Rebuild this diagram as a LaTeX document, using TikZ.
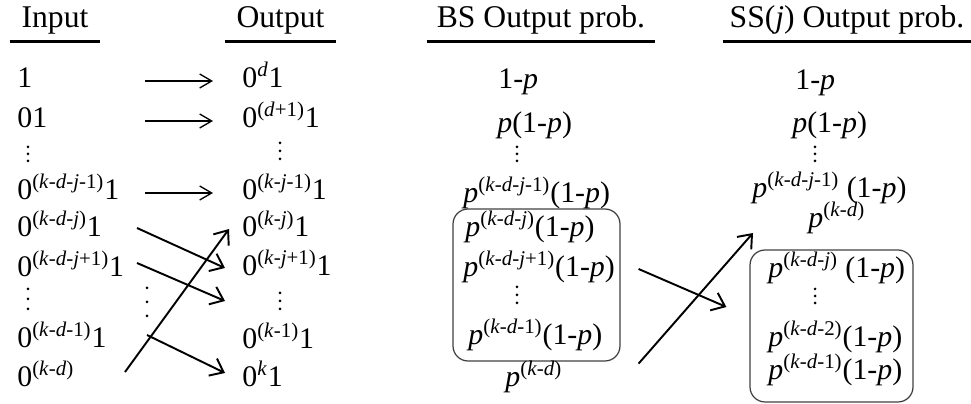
\documentclass[tikz,border=0pt]{standalone}
\usepackage{fontspec}
\setmainfont{Liberation Serif}
\usetikzlibrary{arrows.meta}

\newcommand{\iv}[1]{\textit{#1}}
\newcommand{\sups}[1]{\textsuperscript{#1}}
\newcommand{\omp}{(1-\iv{p})}

\begin{document}
\begin{tikzpicture}[x=0.02cm, y=-0.02cm,
txt/.style={anchor=base west, inner sep=0pt, font=\fontsize{17}{20}\selectfont},
head/.style={anchor=base, inner xsep=0pt, inner ysep=0pt, font=\fontsize{18}{21}\selectfont},
ul/.style={line width=1.6pt},
grp/.style={draw=black!75, line width=0.7pt, rounded corners=0.3cm},
tarr/.style={-{Straight Barb[length=2.4mm, width=2.8mm]}, line width=0.75pt},
arr/.style={-{Straight Barb[length=2.4mm, width=3.8mm]}, line width=1.1pt}
]
\useasboundingbox (0,0) rectangle (971,404);

% headers
\node[head, minimum width=1.8cm] (hin) at (55,28) {Input};
\node[head, minimum width=2.22cm] (hout) at (280.5,28) {Output};
\node[head, minimum width=4.56cm] (hbs) at (541,28) {BS Output prob.};
\node[head, minimum width=4.96cm] (hss) at (847,28) {SS(\iv{j}) Output prob.};
\foreach \h in {hin,hout,hbs,hss}
  \draw[ul] ([yshift=-0.27cm]\h.base west) -- ([yshift=-0.27cm]\h.base east);

% vertical dots
\foreach \n/\x/\y/\s in {in3/28/154/7, in7/28/299/10, out3/280/151/8, out7/280/301/8,
    mid/147/302/14, bs3/517/154/7, bs7/517/295/8, ss3/815/154/7, ss7/815/296/7} {
  \coordinate (\n) at (\x,\y);
  \foreach \k in {-1,0,1}
    \fill (\n) ++(0,\k*\s) circle (0.03cm);
}

% input
\node[txt] (in1) at (17,88) {1};
\node[txt] (in2) at (17,128) {01};
\node[txt] (in4) at (17,200) {0\sups{(\iv{k}-\iv{d}-\iv{j}-1)}1};
\node[txt] (in5) at (17,237) {0\sups{(\iv{k}-\iv{d}-\iv{j})}1};
\node[txt] (in6) at (17,277) {0\sups{(\iv{k}-\iv{d}-\iv{j}+1)}1};
\node[txt] (in8) at (17,348) {0\sups{(\iv{k}-\iv{d}-1)}1};
\node[txt] (in9) at (17,387) {0\sups{(\iv{k}-\iv{d})}};

% output
\node[txt] (out1) at (242,88) {0\sups{\iv{d}}1};
\node[txt] (out2) at (242,128) {0\sups{(\iv{d}+1)}1};
\node[txt] (out4) at (242,200) {0\sups{(\iv{k}-\iv{j}-1)}1};
\node[txt] (out5) at (242,237) {0\sups{(\iv{k}-\iv{j})}1};
\node[txt] (out6) at (242,276) {0\sups{(\iv{k}-\iv{j}+1)}1};
\node[txt] (out8) at (242,349) {0\sups{(\iv{k}-1)}1};
\node[txt] (out9) at (242,387) {0\sups{\iv{k}}1};

\coordinate (ta) at (145,0);
\coordinate (tb) at (213,0);
\coordinate (c1) at (137,0);
\coordinate (c2) at (147,0);
\coordinate (c3) at (125,0);
\coordinate (h1) at (225,0);
\coordinate (h2) at (229,0);

\foreach \r in {1,2,4}
  \draw[tarr] ([yshift=0.14cm]in\r.base -| ta) -- ([yshift=0.14cm]out\r.base -| tb);

\draw[arr] ([yshift=0.18cm]in5.base -| c1) -- ([yshift=0.16cm]out6.base -| h1);
\draw[arr] ([yshift=0.28cm]in6.base -| c1) -- (out7 -| h1);
\draw[arr] ([yshift=0.26cm]in8.base -| c2) -- ([yshift=0.28cm]out9.base -| h1);
\draw[arr] ([yshift=0.3cm]in9.base -| c3) -- ([yshift=0.16cm]out5.base -| h2);

% BS column
\node[grp, minimum width=3.34cm, minimum height=3.04cm] (bsbox) at (536.5,285) {};
\node[txt] (bs1) at (498,89) {1-\iv{p}};
\node[txt] (bs2) at (497,133) {\iv{p}\omp};
\node[txt] (bs4) at (463,203) {\iv{p}\sups{(\iv{k}-\iv{d}-\iv{j}-1)}\omp};
\node[txt] (bs5) at (465,237) {\iv{p}\sups{(\iv{k}-\iv{d}-\iv{j})}\omp};
\node[txt] (bs6) at (463,277) {\iv{p}\sups{(\iv{k}-\iv{d}-\iv{j}+1)}\omp};
\node[txt] (bs8) at (468,345) {\iv{p}\sups{(\iv{k}-\iv{d}-1)}\omp};
\node[txt] (bs9) at (505,387) {\iv{p}\sups{(\iv{k}-\iv{d})}};

% SS column
\node[grp, minimum width=3.26cm, minimum height=3.04cm] (ssbox) at (831.5,326) {};
\node[txt] (ss1) at (795,90) {1-\iv{p}};
\node[txt] (ss2) at (792,133) {\iv{p}\omp};
\node[txt] (ss4) at (752,198) {\iv{p}\sups{(\iv{k}-\iv{d}-\iv{j}-1)} \omp};
\node[txt] (ss5) at (808,228) {\iv{p}\sups{(\iv{k}-\iv{d})}};
\node[txt] (ss6) at (768,278) {\iv{p}\sups{(\iv{k}-\iv{d}-\iv{j})} \omp};
\node[txt] (ss8) at (768,347) {\iv{p}\sups{(\iv{k}-\iv{d}-2)}\omp};
\node[txt] (ss9) at (768,380) {\iv{p}\sups{(\iv{k}-\iv{d}-1)}\omp};

\draw[arr] ([xshift=0.36cm,yshift=0.32cm]bsbox.east) -- ([xshift=-0.46cm,yshift=0.38cm]ssbox.west);
\draw[arr] ([xshift=0.36cm,yshift=-0.04cm]bsbox.south east) -- ([xshift=-1.1cm,yshift=-0.1cm]ss5.base west);
\end{tikzpicture}
\end{document}
